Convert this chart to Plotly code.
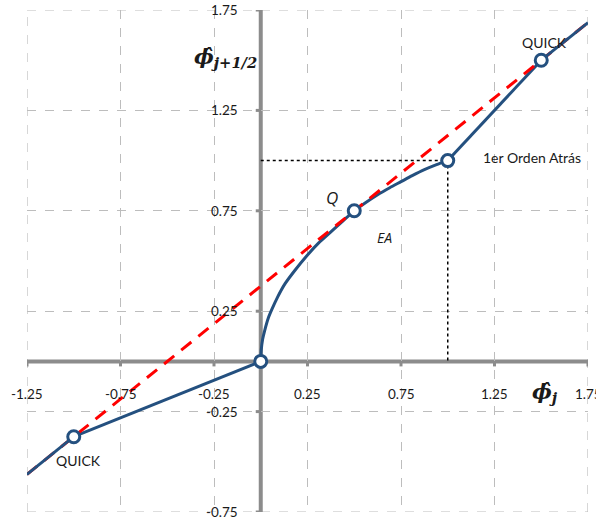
import plotly.graph_objects as go

# ---- data ----
left_x = [-1.0, 0.0]
left_y = [-0.375, 0.0]

ea_x = [0.0, 0.0025, 0.01, 0.02, 0.04, 0.06, 0.09, 0.125, 0.18, 0.25, 0.31, 0.375,
        0.44, 0.5, 0.56, 0.625, 0.69, 0.75, 0.81, 0.875, 0.94, 1.0]
ea_y = [0.0, 0.055, 0.11, 0.15, 0.215, 0.26, 0.32, 0.38, 0.45, 0.53, 0.59, 0.645,
        0.70, 0.75, 0.79, 0.83, 0.865, 0.895, 0.925, 0.955, 0.98, 1.0]

right_x = [1.0, 1.5]
right_y = [1.0, 1.5]

quick_x = [-1.25, 1.75]
quick_y = [-0.5625, 1.6875]

outer_lo_x = [-1.25, -1.0]
outer_lo_y = [-0.5625, -0.375]
outer_hi_x = [1.5, 1.75]
outer_hi_y = [1.5, 1.6875]

pts_x = [-1.0, 0.0, 0.5, 1.0, 1.5]
pts_y = [-0.375, 0.0, 0.75, 1.0, 1.5]

dot_x = [0.0, 1.0, 1.0]
dot_y = [1.0, 1.0, 0.0]

x_ticks = [-1.25, -0.75, -0.25, 0.25, 0.75, 1.25, 1.75]
x_tick_labels = ["-1.25", "-0.75", "-0.25", "0.25", "0.75", "1.25", "1.75"]
y_ticks = [1.75, 1.25, 0.75, 0.25, -0.25, -0.75]
y_tick_labels = ["1.75", "1.25", "0.75", "0.25", "-0.25", "-0.75"]

X_RANGE = [-1.25, 1.75]
Y_RANGE = [-0.75, 1.75]

BLUE = "#24507f"
RED = "#ff0000"
AXIS = "#8c8c8c"
GRID = "#bdbdbd"
FONT = "Lato"
TXT = "#1a1a1a"

fig = go.Figure()
fig.add_trace(go.Scatter(x=dot_x, y=dot_y, mode="lines",
                         line=dict(color="black", width=1.5, dash="dot"), hoverinfo="skip"))
fig.add_trace(go.Scatter(x=left_x, y=left_y, mode="lines", line=dict(color=BLUE, width=3)))
fig.add_trace(go.Scatter(x=ea_x, y=ea_y, mode="lines",
                         line=dict(color=BLUE, width=3, shape="spline", smoothing=0.6)))
fig.add_trace(go.Scatter(x=right_x, y=right_y, mode="lines", line=dict(color=BLUE, width=3)))
fig.add_trace(go.Scatter(x=quick_x, y=quick_y, mode="lines",
                         line=dict(color=RED, width=3, dash="13px,9px")))
fig.add_trace(go.Scatter(x=outer_lo_x, y=outer_lo_y, mode="lines", line=dict(color=BLUE, width=3)))
fig.add_trace(go.Scatter(x=outer_hi_x, y=outer_hi_y, mode="lines", line=dict(color=BLUE, width=3)))
fig.add_trace(go.Scatter(x=pts_x, y=pts_y, mode="markers",
                         marker=dict(size=12, color="white", line=dict(color=BLUE, width=3))))

shapes = []
# dashed border of the plotting area (grid lines at the range ends)
for xv in X_RANGE:
    shapes.append(dict(type="line", xref="x", yref="y", x0=xv, x1=xv, y0=Y_RANGE[0], y1=Y_RANGE[1],
                       line=dict(color=GRID, width=1.2, dash="dash"), layer="below"))
for yv in Y_RANGE:
    shapes.append(dict(type="line", xref="x", yref="y", y0=yv, y1=yv, x0=X_RANGE[0], x1=X_RANGE[1],
                       line=dict(color=GRID, width=1.2, dash="dash"), layer="below"))
# axes through the origin
shapes.append(dict(type="line", xref="x", yref="y", x0=X_RANGE[0], x1=X_RANGE[1], y0=0, y1=0,
                   line=dict(color=AXIS, width=4), layer="below"))
shapes.append(dict(type="line", xref="x", yref="y", x0=0, x1=0, y0=Y_RANGE[0], y1=Y_RANGE[1],
                   line=dict(color=AXIS, width=4), layer="below"))
for t in x_ticks:
    shapes.append(dict(type="line", xref="x", yref="y", ysizemode="pixel", yanchor=0,
                       x0=t, x1=t, y0=0, y1=-5, line=dict(color=AXIS, width=3), layer="below"))
for t in y_ticks:
    shapes.append(dict(type="line", xref="x", yref="y", xsizemode="pixel", xanchor=0,
                       y0=t, y1=t, x0=0, x1=-5, line=dict(color=AXIS, width=3), layer="below"))

ann = []
for v, lab in zip(x_ticks, x_tick_labels):
    ann.append(dict(x=v, y=0, xref="x", yref="y", text=lab, showarrow=False,
                    yshift=-33, xanchor="center", yanchor="middle",
                    font=dict(family=FONT, size=13.5, color=TXT)))
for v, lab in zip(y_ticks, y_tick_labels):
    ann.append(dict(x=0, y=v, xref="x", yref="y", text=lab, showarrow=False,
                    xshift=-21, xanchor="right", yanchor="middle",
                    font=dict(family=FONT, size=13.5, color=TXT)))

labels = [
    dict(x=-0.975, y=-0.493, text="QUICK"),
    dict(x=1.517, y=1.589, text="QUICK"),
    dict(x=1.453, y=1.016, text="1er Orden Atrás"),
]
for a in labels:
    a.update(xref="x", yref="y", showarrow=False, xanchor="center", yanchor="middle",
             font=dict(family=FONT, size=14, color=TXT))
ann += labels
ann.append(dict(x=0.381, y=0.817, xref="x", yref="y", text="<i>Q</i>", showarrow=False,
                font=dict(family="Open Sans", size=17, color=TXT)))
ann.append(dict(x=0.664, y=0.618, xref="x", yref="y", text="<i>EA</i>", showarrow=False,
                font=dict(family="Open Sans", size=14, color=TXT)))
ann.append(dict(x=-0.186, y=1.514, xref="x", yref="y", showarrow=False,
                text="<b><i>ϕ̂</i></b><sub><b><i>j+1/2</i></b></sub>",
                font=dict(family="DejaVu Serif", size=21, color=TXT)))
ann.append(dict(x=1.52, y=-0.154, xref="x", yref="y", showarrow=False,
                text="<b><i>ϕ̂</i></b><sub><b><i>j</i></b></sub>",
                font=dict(family="DejaVu Serif", size=21, color=TXT)))

fig.update_layout(
    width=596, height=520,
    margin=dict(l=27, r=8, t=10, b=8),
    paper_bgcolor="white", plot_bgcolor="white",
    showlegend=False,
    shapes=shapes, annotations=ann,
    xaxis=dict(range=X_RANGE, tickvals=x_ticks, showticklabels=False, ticks="",
               showgrid=True, gridcolor=GRID, griddash="dash", gridwidth=1.2,
               zeroline=False, showline=False, fixedrange=True),
    yaxis=dict(range=Y_RANGE, tickvals=y_ticks, showticklabels=False, ticks="",
               showgrid=True, gridcolor=GRID, griddash="dash", gridwidth=1.2,
               zeroline=False, showline=False, fixedrange=True),
)

fig.write_html("out.html")
